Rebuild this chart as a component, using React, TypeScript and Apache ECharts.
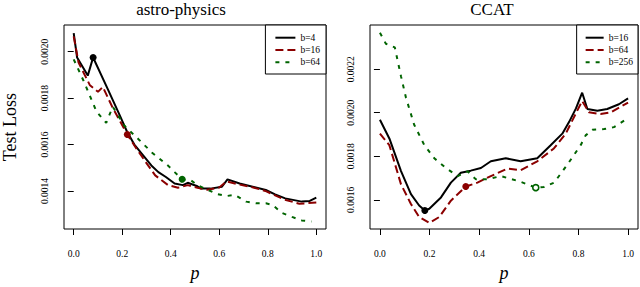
import React, { useEffect, useRef } from 'react';
import * as echarts from 'echarts';

const xTicks = [0, 0.2, 0.4, 0.6, 0.8, 1.0];
const astroYTicks = [0.0014, 0.0016, 0.0018, 0.002];
const ccatYTicks = [0.0016, 0.0018, 0.002, 0.0022];

const titles = ['astro-physics', 'CCAT'];
const astroNames = ['b=4', 'b=16', 'b=64'];
const ccatNames = ['b=16', 'b=64', 'b=256'];

// astro-physics
const astroB4: [number, number][] = [
  [0, 0.00208], [0.014, 0.001975], [0.058, 0.001897], [0.08, 0.001975], [0.14, 0.00184],
  [0.188, 0.00173], [0.22, 0.001655], [0.25, 0.0016], [0.282, 0.001559], [0.32, 0.00151],
  [0.349, 0.001481], [0.38, 0.00146], [0.416, 0.001432], [0.45, 0.001425], [0.47, 0.001435],
  [0.51, 0.00142], [0.523, 0.001411], [0.564, 0.00141], [0.611, 0.001418], [0.634, 0.00145],
  [0.684, 0.001432], [0.738, 0.001418], [0.792, 0.001404], [0.83, 0.001385], [0.872, 0.001368],
  [0.94, 0.001354], [0.973, 0.001357], [1.0, 0.001371],
];
const astroB16: [number, number][] = [
  [0, 0.002066], [0.02, 0.001953], [0.067, 0.001855], [0.1, 0.001827], [0.12, 0.001848],
  [0.16, 0.00176], [0.221, 0.001643], [0.26, 0.00158], [0.3, 0.00152], [0.336, 0.001467],
  [0.389, 0.001425], [0.43, 0.001414], [0.47, 0.001425], [0.51, 0.001414], [0.55, 0.001405],
  [0.6, 0.001415], [0.63, 0.001441], [0.68, 0.001428], [0.74, 0.001415], [0.79, 0.0014],
  [0.87, 0.001362], [0.93, 0.001345], [0.96, 0.001347], [1.0, 0.00135],
];
const astroB64: [number, number][] = [
  [0, 0.001967], [0.04, 0.001876], [0.094, 0.001742], [0.134, 0.001693], [0.161, 0.001763],
  [0.208, 0.001682], [0.268, 0.001622], [0.322, 0.001566], [0.389, 0.001509], [0.416, 0.001481],
  [0.447, 0.00145], [0.483, 0.001446], [0.51, 0.001425], [0.55, 0.001406], [0.59, 0.001387],
  [0.63, 0.001378], [0.664, 0.001383], [0.711, 0.001354], [0.752, 0.001347], [0.792, 0.001347],
  [0.819, 0.00134], [0.859, 0.001305], [0.9, 0.001288], [0.94, 0.001273], [0.98, 0.001268],
];
const astroMarks: [number, number][] = [[0.08, 0.001975], [0.221, 0.001643], [0.447, 0.00145]];

// CCAT
const ccatB16: [number, number][] = [
  [0, 0.001968], [0.038, 0.001882], [0.085, 0.001732], [0.125, 0.001626], [0.158, 0.001574],
  [0.181, 0.001551], [0.199, 0.001559], [0.246, 0.001611], [0.286, 0.001679], [0.326, 0.001724],
  [0.366, 0.001734], [0.407, 0.001746], [0.447, 0.001777], [0.507, 0.001791], [0.567, 0.001777],
  [0.634, 0.001791], [0.688, 0.001851], [0.735, 0.001904], [0.762, 0.001957], [0.79, 0.00202],
  [0.815, 0.002092], [0.836, 0.002017], [0.876, 0.002009], [0.916, 0.002017], [0.963, 0.002039],
  [1.0, 0.002066],
];
const ccatB64: [number, number][] = [
  [0, 0.001904], [0.038, 0.001851], [0.085, 0.001671], [0.125, 0.001581], [0.158, 0.001521],
  [0.199, 0.001494], [0.239, 0.001521], [0.286, 0.001596], [0.346, 0.001661], [0.393, 0.001679],
  [0.447, 0.001709], [0.514, 0.001743], [0.567, 0.001736], [0.634, 0.001777], [0.701, 0.001836],
  [0.749, 0.001904], [0.775, 0.001964], [0.815, 0.002054], [0.842, 0.002002], [0.889, 0.001994],
  [0.93, 0.002002], [1.0, 0.002047],
];
const ccatB256: [number, number][] = [
  [0, 0.002367], [0.024, 0.002317], [0.06, 0.0023], [0.085, 0.002167], [0.105, 0.002069],
  [0.138, 0.001945], [0.179, 0.001851], [0.219, 0.001791], [0.266, 0.001746], [0.313, 0.001709],
  [0.353, 0.001731], [0.387, 0.001694], [0.433, 0.001694], [0.487, 0.001709], [0.567, 0.001683],
  [0.628, 0.001656], [0.661, 0.001659], [0.702, 0.001679], [0.755, 0.001761], [0.809, 0.001851],
  [0.829, 0.001896], [0.856, 0.001922], [0.903, 0.001925], [0.943, 0.001934], [0.99, 0.001968],
];
const ccatMarks: [number, number][] = [[0.181, 0.001551], [0.346, 0.001661], [0.628, 0.001656]];

const SERIF = '"Liberation Serif", "Times New Roman", serif';
const colors = ['#000000', '#8b0000', '#006400'];
const dashes: any[] = ['solid', [8, 4], [4, 6]];

function makeX(gridIndex: number) {
  return {
    type: 'value', gridIndex, min: -0.04, max: 1.04,
    name: 'p', nameLocation: 'middle', nameGap: 35,
    nameTextStyle: { fontFamily: SERIF, fontStyle: 'italic', fontSize: 18, color: '#000' },
    axisLine: { show: false }, splitLine: { show: false },
    axisTick: { show: true, inside: false, length: 6, lineStyle: { color: '#000' }, customValues: xTicks },
    axisLabel: { customValues: xTicks, formatter: (v: number) => v.toFixed(1), margin: 20, fontFamily: SERIF, fontSize: 9.5, color: '#000' },
  };
}
function makeY(gridIndex: number, min: number, max: number, ticks: number[], name: string) {
  return {
    type: 'value', gridIndex, min, max,
    name, nameLocation: 'middle', nameGap: 45, nameRotate: 90,
    nameTextStyle: { fontFamily: SERIF, fontSize: 18, color: '#000' },
    axisLine: { show: false }, splitLine: { show: false },
    axisTick: { show: true, inside: false, length: 6, lineStyle: { color: '#000' }, customValues: ticks },
    axisLabel: { customValues: ticks, rotate: 90, formatter: (v: number) => v.toFixed(4), margin: 14, fontFamily: SERIF, fontSize: 9.5, color: '#000' },
  };
}
function makeSeries(name: string, data: [number, number][], i: number, axis: number, mark: [number, number], open: boolean) {
  return {
    type: 'line', name, data, xAxisIndex: axis, yAxisIndex: axis,
    symbol: 'none', showSymbol: false, smooth: false,
    lineStyle: { color: colors[i], width: 2, type: dashes[i] },
    itemStyle: { color: colors[i] },
    markPoint: {
      silent: true, symbol: 'circle', symbolSize: open ? 6 : 7,
      label: { show: false },
      itemStyle: open ? { color: '#fff', borderColor: colors[i], borderWidth: 1.6 } : { color: colors[i] },
      data: [{ coord: mark }],
    },
  };
}

export default function App() {
  const ref = useRef<HTMLDivElement>(null);
  useEffect(() => {
    const chart = echarts.init(ref.current!, null, { renderer: 'svg' });
    const legendCommon = {
      orient: 'vertical', top: 25, backgroundColor: '#fff', borderColor: '#000', borderWidth: 1,
      borderRadius: 0, itemHeight: 10, itemGap: 2.3, selectedMode: false,
      itemStyle: { opacity: 0 },
      textStyle: { fontFamily: SERIF, fontSize: 9.5, color: '#000' },
    };
    const ccatSeriesNames = ccatNames.map((n) => 'CCAT ' + n);
    chart.setOption({
      animation: false,
      backgroundColor: '#fff',
      grid: [
        { left: 58, top: 25, width: 268, height: 209, show: true, borderColor: '#000', borderWidth: 1 },
        { left: 370, top: 25, width: 268, height: 209, show: true, borderColor: '#000', borderWidth: 1 },
      ],
      xAxis: [makeX(0), makeX(1)],
      yAxis: [
        makeY(0, 0.001236, 0.002115, astroYTicks, 'Test Loss'),
        makeY(1, 0.001466, 0.002403, ccatYTicks, ''),
      ],
      legend: [
        { ...legendCommon, data: astroNames, right: 640 - 326, itemWidth: 20, padding: [7.7, 6, 6.7, 9] },
        { ...legendCommon, data: ccatSeriesNames, right: 2, itemWidth: 18, padding: [7.7, 5, 6.7, 8],
          formatter: (n: string) => n.replace('CCAT ', '') },
      ],
      graphic: [
        { type: 'text', x: 181, y: 9, style: { text: titles[0], fill: '#000', font: '17px ' + SERIF, align: 'center', verticalAlign: 'middle' } },
        { type: 'text', x: 492, y: 9, style: { text: titles[1], fill: '#000', font: '17px ' + SERIF, align: 'center', verticalAlign: 'middle' } },
      ],
      series: [
        makeSeries(astroNames[0], astroB4, 0, 0, astroMarks[0], false),
        makeSeries(astroNames[1], astroB16, 1, 0, astroMarks[1], false),
        makeSeries(astroNames[2], astroB64, 2, 0, astroMarks[2], false),
        makeSeries(ccatSeriesNames[0], ccatB16, 0, 1, ccatMarks[0], false),
        makeSeries(ccatSeriesNames[1], ccatB64, 1, 1, ccatMarks[1], false),
        makeSeries(ccatSeriesNames[2], ccatB256, 2, 1, ccatMarks[2], true),
      ],
    });
    return () => chart.dispose();
  }, []);
  return <div ref={ref} style={{ position: 'absolute', left: 0, top: 0, width: 640, height: 287 }} />;
}
